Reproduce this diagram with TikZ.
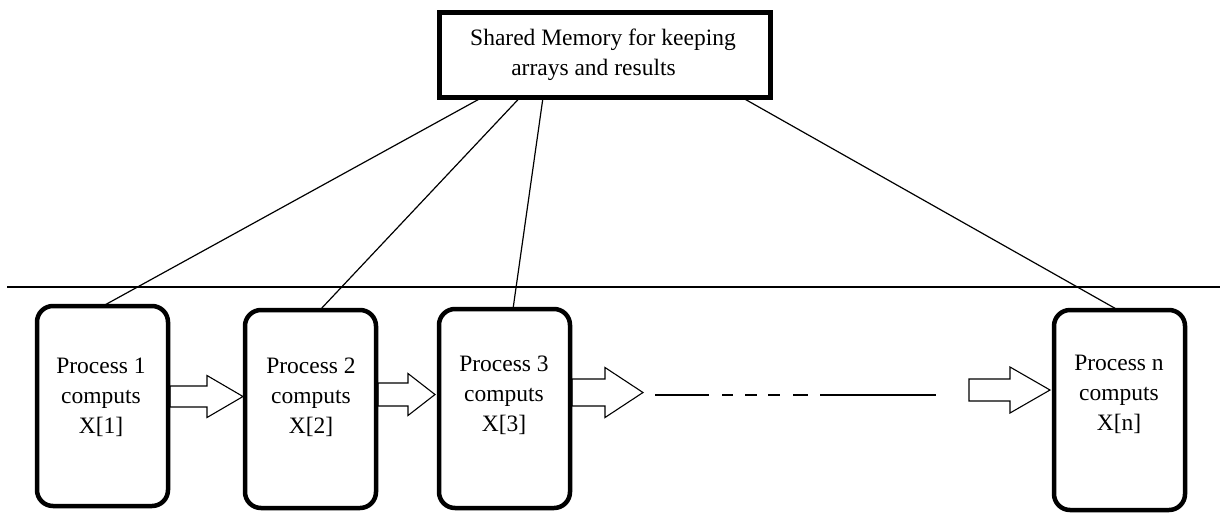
\documentclass[tikz,border=0pt]{standalone}
\usepackage{fontspec}
\setmainfont{Liberation Serif}
\begin{document}
\begin{tikzpicture}[x=1pt,y=-1pt,
  every node/.style={inner sep=0pt,outer sep=0pt},
  membox/.style={draw,line width=5pt,minimum width=331pt,minimum height=85pt},
  procbox/.style={draw,line width=4.5pt,rounded corners=16pt,minimum width=131pt,minimum height=200pt},
  txt/.style={align=center,font=\fontsize{23.5}{30}\selectfont},
  conn/.style={line width=1.2pt},
  blk/.style={line width=1.1pt,line join=miter},
  sep/.style={line width=1.5pt}]
\useasboundingbox[fill=white] (0,0) rectangle (1220,531);
% shared memory box
\node[membox] (mem) at (605,55) {};
\node[txt] (memt) at (603,55) {Shared Memory for keeping\\arrays and results\hspace*{19pt}};
% separator line
\coordinate (sl) at (7,287);
\coordinate (sr) at (1220,287);
\draw[sep] (sl) -- (sr);
% block arrows (drawn first, boxes on top)
\newcommand{\blkarrow}[6]{%
  \draw[blk] (#1,#3-#4) -- (#2-#6,#3-#4) -- (#2-#6,#3-#5) -- (#2,#3) -- (#2-#6,#3+#5) -- (#2-#6,#3+#4) -- (#1,#3+#4) -- cycle;}
\blkarrow{170}{243}{396.5}{10.5}{21}{36}
\blkarrow{378}{435}{394.5}{11.5}{21}{27}
\blkarrow{572}{643}{392.5}{13.5}{25}{38}
\blkarrow{969}{1050}{390}{11}{23}{40}
% process boxes
\node[procbox] (p1) at (102.5,406) {};
\node[procbox,minimum height=198pt] (p2) at (310.5,409) {};
\node[procbox,minimum height=199pt] (p3) at (504.5,408.5) {};
\node[procbox] (pn) at (1119.5,410) {};
\node[txt] (t1) at (101,397) {Process 1\\computs\\X[1]};
\node[txt] (t2) at (311,397) {Process 2\\computs\\X[2]};
\node[txt] (t3) at (504,395) {Process 3\\computs\\X[3]};
\node[txt] (tn) at (1119,394) {Process n\\computs\\X[n]};
% connectors
\draw[conn] ([xshift=-123pt]mem.south) -- ([xshift=0.5pt]p1.north);
\draw[conn] ([xshift=-85pt]mem.south) -- ([xshift=9.5pt]p2.north);
\draw[conn] ([xshift=-62pt]mem.south) -- ([xshift=8.5pt]p3.north);
\draw[conn] ([xshift=137pt]mem.south) -- ([xshift=-1.5pt]pn.north);
% dashed continuation
\coordinate (d0) at (655,395);
\coordinate (d1) at (936,395);
\draw[line width=1.5pt,dash pattern=on 54pt off 13pt on 11pt off 12pt on 12pt off 11pt on 12pt off 13pt on 15pt off 12pt on 116pt off 10pt] (d0) -- (d1);
\end{tikzpicture}
\end{document}
